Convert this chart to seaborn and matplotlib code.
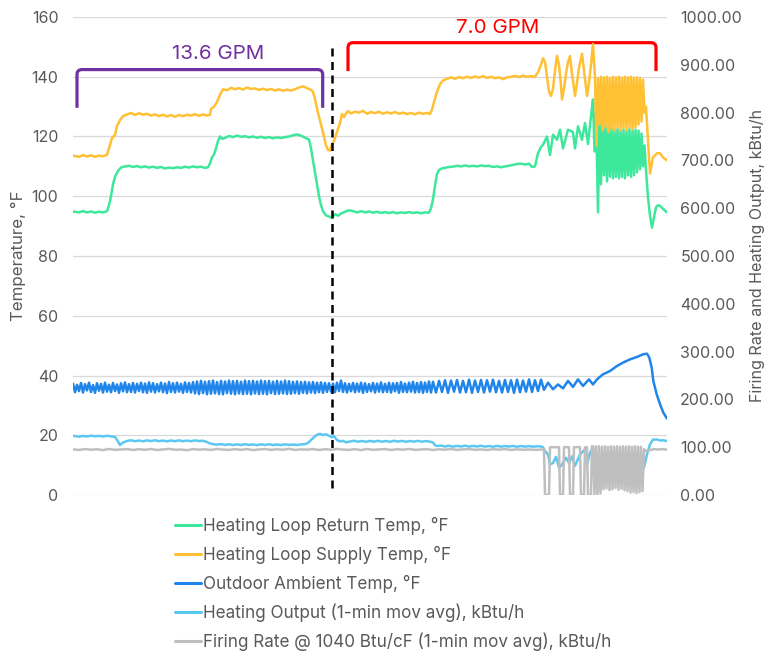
import numpy as np
import matplotlib
matplotlib.use("Agg")
import matplotlib.pyplot as plt
from matplotlib.path import Path
from matplotlib.patches import PathPatch
from matplotlib.lines import Line2D
from matplotlib.ticker import FuncFormatter
import seaborn as sns

# ---------------- data (time in arbitrary elapsed units) ----------------
labels = [
    "Heating Loop Return Temp, °F",
    "Heating Loop Supply Temp, °F",
    "Outdoor Ambient Temp, °F",
    "Heating Output (1-min mov avg), kBtu/h",
    "Firing Rate @ 1040 Btu/cF (1-min mov avg), kBtu/h",
]
colors = ["#3DE79B", "#FFC033", "#1F85EA", "#5BC8F2", "#BFBFBF"]

# Heating loop supply temp, °F
t_supply = [-2, 4, 8, 12, 16, 20, 24, 28, 32, 34, 37, 40, 42, 45, 48, 52, 56, 60, 64, 68, 72, 76, 80, 84,
            88, 92, 96, 100, 104, 108, 112, 116, 120, 124, 128, 132, 135, 136, 139, 142, 145, 148, 152,
            156, 160, 164, 168, 172, 176, 180, 184, 188, 192, 196, 200, 204, 208, 212, 216, 220, 224, 228,
            232, 236, 238, 240, 243, 246, 249, 251, 253, 255, 257, 259, 261, 263, 265, 267, 269, 271, 273,
            276, 280, 284, 288, 292, 296, 300, 304, 308, 312, 316, 320, 324, 328, 332, 336, 340, 344, 348,
            352, 355, 357, 359, 362, 365, 368, 372, 376, 380, 384, 388, 392, 396, 400, 404, 408, 412, 416,
            420, 424, 428, 432, 436, 440, 444, 448, 452, 456, 460, 463, 466, 468, 470, 472, 474, 476, 478,
            480, 482, 484, 486, 487, 489, 491, 493, 495, 497, 499, 500, 502, 504, 507, 509, 511, 512, 514,
            516, 518, 519, 520, 521.5, 523, 524.5, 526, 527.5, 529, 530.5, 532, 533.5, 535, 536.5, 538,
            539.5, 541, 542.5, 544, 545.5, 547, 548.5, 550, 551.5, 553, 554.5, 556, 557.5, 559, 560.5, 562,
            563.5, 565, 566.5, 568, 569.5, 571, 573, 575, 578, 582, 585, 588, 592]
supply = [113.6, 113.2, 113.8, 113.3, 113.7, 113.2, 113.6, 113.4, 113.9, 116.0, 119.5, 120.5, 123.5, 125.5,
          126.8, 127.4, 127.9, 127.2, 127.8, 127.3, 127.6, 127.0, 127.4, 126.8, 127.3, 126.7, 127.2, 126.6,
          127.2, 126.8, 127.3, 127.0, 127.5, 126.9, 127.4, 127.0, 127.3, 129.2, 130.0, 131.5, 134.0, 135.8,
          135.5, 136.3, 135.8, 136.2, 135.7, 136.4, 135.9, 136.1, 135.6, 136.0, 135.5, 135.9, 135.4, 135.8,
          135.3, 135.7, 135.4, 135.8, 136.4, 136.8, 136.2, 135.6, 135.0, 132.5, 128.0, 124.0, 120.0, 117.0,
          115.5, 115.3, 117.5, 118.5, 120.5, 122.5, 124.5, 127.5, 126.5, 127.8, 128.5, 127.7, 128.3, 128.0,
          128.6, 127.6, 128.2, 127.8, 128.3, 127.6, 128.1, 127.7, 128.2, 127.6, 128.0, 127.5, 127.9, 127.4,
          128.0, 127.6, 127.9, 127.5, 129.0, 131.5, 135.0, 137.5, 138.8, 139.3, 139.8, 139.3, 139.9, 139.5,
          140.0, 139.6, 140.1, 139.7, 140.2, 139.6, 140.0, 139.5, 139.8, 139.2, 139.8, 140.0, 140.3, 139.9,
          140.4, 140.0, 140.2, 140.0, 141.5, 144.0, 146.2, 145.0, 140.0, 135.0, 133.6, 136.0, 142.0, 147.0,
          144.0, 137.0, 132.4, 136.0, 141.0, 145.0, 146.9, 141.0, 136.0, 133.6, 138.0, 143.0, 147.7, 142.0,
          136.0, 133.6, 138.0, 144.0, 151.0, 145.0, 140.0, 117.0, 139.5, 124.0, 140.0, 122.0, 139.8, 123.0,
          140.0, 121.5, 139.6, 122.5, 140.0, 122.0, 139.8, 123.0, 140.0, 122.0, 139.7, 122.8, 140.0, 122.0,
          139.8, 123.0, 140.0, 122.5, 139.7, 123.0, 139.8, 124.0, 139.5, 125.0, 139.0, 128.0, 130.0, 119.0,
          107.6, 113.0, 114.4, 114.4, 113.0, 112.0]

# Heating loop return temp, °F
t_return = [-2, 4, 8, 12, 16, 20, 24, 28, 32, 34, 36, 38, 40, 43, 46, 50, 54, 58, 62, 66, 70, 74, 78, 82,
            86, 90, 94, 98, 102, 106, 110, 114, 118, 122, 126, 130, 133, 135, 137, 139, 141, 143, 145, 147,
            150, 154, 158, 162, 166, 170, 174, 178, 182, 186, 190, 194, 198, 202, 206, 210, 214, 218, 222,
            226, 230, 234, 236, 238, 240, 242, 244, 246, 248, 251, 254, 257, 260, 263, 266, 270, 274, 278,
            282, 286, 290, 294, 298, 302, 306, 310, 314, 318, 322, 326, 330, 334, 338, 342, 346, 350, 354,
            356, 358, 360, 362, 364, 367, 370, 374, 378, 382, 386, 390, 394, 398, 402, 406, 410, 414, 418,
            422, 426, 430, 434, 438, 442, 446, 450, 454, 457, 460, 463, 466, 468, 472, 475, 478, 482, 485,
            488, 493, 498, 500, 503, 507, 510, 513, 516, 518, 519.5, 521, 523, 524.5, 526, 527.5, 529,
            530.5, 532, 533.5, 535, 536.5, 538, 539.5, 541, 542.5, 544, 545.5, 547, 548.5, 550, 551.5, 553,
            554.5, 556, 557.5, 559, 560.5, 562, 563.5, 565, 566.5, 568, 569.5, 571, 573, 575, 577, 579, 581,
            583, 585, 588, 592]
ret = [94.9, 94.6, 95.0, 94.6, 94.9, 94.5, 94.8, 94.6, 95.0, 97.0, 100.0, 104.0, 106.5, 108.5, 109.6, 110.0,
       110.2, 109.8, 110.1, 109.7, 110.0, 109.6, 109.9, 109.5, 109.8, 109.3, 109.6, 109.4, 109.7, 109.5,
       109.9, 109.6, 110.0, 109.7, 109.9, 109.5, 109.7, 111.0, 113.0, 114.0, 116.0, 118.5, 120.0, 119.2,
       119.5, 120.2, 119.8, 120.3, 119.9, 120.1, 119.7, 120.0, 119.6, 119.9, 119.5, 119.8, 119.4, 119.7,
       119.5, 119.8, 120.0, 120.4, 120.7, 120.3, 119.6, 119.0, 116.0, 112.0, 108.0, 104.0, 100.0, 97.0,
       95.0, 93.6, 93.2, 92.8, 94.0, 93.5, 94.2, 94.8, 95.3, 95.0, 94.6, 95.0, 94.6, 94.9, 94.5, 94.8, 94.4,
       94.7, 94.4, 94.7, 94.3, 94.6, 94.4, 94.7, 94.4, 94.6, 94.3, 94.6, 94.5, 96.0, 99.0, 103.5, 107.5,
       108.8, 109.3, 109.5, 109.8, 109.9, 110.2, 110.0, 110.3, 110.0, 110.2, 110.0, 110.3, 110.1, 110.2,
       109.8, 110.0, 109.7, 110.0, 110.2, 110.5, 110.8, 110.9, 110.6, 110.9, 109.8, 110.0, 114.4, 116.5,
       117.2, 120.0, 113.8, 120.6, 118.9, 122.3, 116.0, 122.3, 121.5, 116.0, 123.4, 118.9, 124.5, 117.5,
       126.8, 132.4, 115.0, 128.0, 94.6, 126.0, 104.0, 125.0, 107.0, 124.0, 105.0, 123.5, 106.5, 123.0,
       106.0, 122.5, 106.5, 122.5, 106.0, 122.0, 106.5, 122.3, 106.0, 122.0, 107.0, 122.5, 106.5, 122.0,
       107.0, 122.3, 108.0, 122.0, 109.0, 121.0, 110.0, 117.0, 108.7, 99.6, 93.5, 89.5, 93.0, 96.3, 97.0,
       96.8, 95.8, 94.6]

# Outdoor ambient temp, °F
# dense part: every 2 time units from -2 to 358
amb_dense = [37.3, 34.4, 36.9, 34.8, 37.5, 34.3, 37.1, 35.0, 37.6, 34.5,
             36.8, 34.2, 37.4, 34.9, 37.2, 34.3, 37.6, 34.6, 36.9, 34.4,
             37.5, 34.8, 37.0, 34.2, 37.4, 34.7, 37.7, 34.4, 37.1, 34.5,
             37.5, 34.3, 37.2, 34.8, 37.6, 34.4, 37.3, 34.2, 37.7, 34.6,
             37.4, 34.3, 37.1, 34.7, 37.6, 34.4, 37.3, 34.1, 37.8, 34.5,
             37.4, 34.3, 37.6, 34.6, 37.2, 34.2, 37.7, 34.5, 37.5, 34.3,
             37.8,
             34.0, 38.0, 33.8, 38.2, 34.1, 37.9, 33.7, 38.1, 33.9, 38.3,
             34.0, 37.8, 33.8, 38.2, 33.7, 38.0, 34.1, 38.3, 33.9, 38.1,
             33.7, 38.2, 34.0, 37.9, 33.8, 38.3, 33.9, 38.1, 33.7, 38.2,
             34.0, 38.0, 33.8, 38.3, 33.9, 38.1, 33.7, 38.2, 34.1, 37.9,
             33.8, 38.2, 33.9, 38.0, 34.0, 38.3, 33.8, 38.1, 33.9, 37.9,
             34.1, 38.0, 33.9, 37.8, 34.2, 37.9, 34.0, 37.7, 34.3, 37.8,
             34.1, 37.6, 34.4, 37.7, 34.2, 37.5, 34.5, 37.4,
             34.6, 37.3, 34.4, 37.6, 34.8, 38.3, 34.5, 37.4, 34.3, 37.2,
             34.7, 37.5, 34.4, 37.3, 34.6, 37.6, 34.2, 37.4, 34.5, 37.1,
             34.7, 37.5, 34.3, 37.3, 34.6, 37.7, 34.4, 37.2, 34.5, 37.6,
             34.3, 37.4, 34.7, 37.5, 34.2, 37.8, 34.5, 37.3, 34.4, 37.6,
             34.6, 37.9, 34.3, 37.5, 34.4, 37.8, 34.2, 37.6, 34.5, 38.0,
             34.3, 37.9]
# zigzag part: every 3 time units from 361
amb_zig = [34.3, 38.2, 34.5, 38.4, 34.2, 38.3, 34.6, 38.5, 34.3, 38.2, 34.4, 38.6, 34.2, 38.3, 34.5,
           38.5, 34.3, 38.4, 34.6, 38.6, 34.4, 38.2, 34.3, 38.5, 34.5, 38.4, 34.2, 38.6, 34.4, 38.3,
           34.6, 38.7, 34.5, 38.4, 34.8, 38.6, 35.2]
t_amb_tail = [473, 478, 483, 488, 493, 498, 503, 508, 514, 518, 522, 528, 535, 542, 548, 555, 562, 568,
              572, 574.3, 576.7, 578.3, 581.7, 585, 588.3, 592]
amb_tail = [37.6, 35.4, 37.0, 35.7, 38.2, 36.2, 38.7, 36.5, 38.7, 37.0, 38.7, 40.4, 41.5, 43.2, 44.3, 45.4,
            46.2, 47.1, 47.3, 46.0, 42.6, 38.2, 33.7, 30.4, 27.6, 25.6]

# Heating output, kBtu/h
t_output = [-2, 4, 8, 12, 16, 20, 24, 28, 32, 36, 40, 43, 45, 48, 52, 56, 60, 64, 68, 72, 76, 80, 84, 88,
            92, 96, 100, 104, 108, 112, 116, 120, 124, 128, 131, 135, 139, 142, 146, 150, 154, 158, 162,
            166, 170, 174, 178, 182, 186, 190, 194, 198, 202, 206, 210, 214, 218, 222, 226, 230, 233, 236,
            239, 242, 245, 248, 251, 254, 257, 259, 262, 265, 268, 271, 275, 279, 283, 287, 291, 295, 299,
            303, 307, 311, 315, 319, 323, 327, 331, 335, 339, 343, 347, 351, 355, 358, 360, 362, 366, 370,
            374, 378, 382, 386, 390, 394, 398, 402, 406, 410, 414, 418, 422, 426, 430, 434, 438, 442, 446,
            450, 454, 458, 462, 466, 468, 470, 473, 475, 478, 481, 484, 487, 491, 494, 497, 500, 505, 510,
            512, 515, 518, 520, 523, 527, 530, 535, 540, 545, 550, 555, 560, 563, 566, 569, 572, 575, 578,
            582, 585, 588, 592]
output = [124.0, 122.0, 123.5, 122.5, 124.0, 122.8, 123.6, 122.4, 123.8, 122.5, 121.5, 112.0, 104.6, 110.0,
          113.0, 114.5, 112.5, 114.0, 112.3, 114.2, 112.8, 114.5, 112.5, 113.8, 112.2, 114.0, 112.6, 114.3,
          112.4, 113.9, 112.5, 114.2, 112.8, 113.5, 111.5, 108.0, 106.0, 105.5, 106.5, 104.8, 106.2, 104.5,
          106.0, 104.6, 106.3, 104.8, 105.9, 104.4, 106.0, 104.8, 106.2, 104.5, 105.8, 104.6, 106.0, 104.8,
          105.6, 104.5, 105.8, 106.5, 109.0, 115.0, 121.0, 126.0, 128.0, 125.5, 127.0, 124.0, 121.0, 123.0,
          115.0, 112.0, 113.5, 110.0, 112.0, 113.5, 111.5, 113.0, 111.2, 113.2, 111.6, 113.4, 111.5, 113.0,
          111.3, 113.5, 111.8, 113.2, 111.4, 113.0, 111.6, 113.3, 111.5, 112.8, 111.5, 110.0, 104.0, 102.5,
          103.5, 101.5, 103.0, 101.2, 102.8, 101.5, 103.2, 101.3, 102.7, 101.5, 103.0, 101.2, 102.5, 101.0,
          102.8, 101.2, 102.5, 101.3, 102.6, 101.0, 102.4, 101.2, 102.3, 101.0, 102.0, 101.5, 100.0, 92.0,
          85.0, 64.0, 67.0, 80.0, 57.0, 64.0, 78.0, 67.0, 81.0, 61.0, 85.0, 95.0, 64.0, 88.0, 100.0, 70.0,
          55.0, 64.0, 50.0, 60.0, 45.0, 55.0, 40.0, 52.0, 42.0, 55.0, 48.0, 58.0, 85.0, 106.0, 116.0, 116.0,
          114.0, 114.5, 113.0]

# Firing rate, kBtu/h -- regular part (every 6 time units from -2) then cycling tail
firing_regular = [95.5, 94.2, 96.1, 94.8, 95.7, 93.9, 96.3, 94.5, 95.2, 96.0, 94.3, 95.8, 94.6, 96.2, 94.1,
                  95.4, 96.5, 94.7, 95.1, 93.8, 96.0, 94.9, 95.6, 94.2, 96.4, 95.0, 94.4, 95.9, 94.6, 96.1,
                  94.0, 95.3, 96.2, 94.5, 95.7, 94.8, 96.6, 94.3, 95.5, 94.9, 96.0, 94.2, 95.8, 94.7, 96.3,
                  95.1, 94.4, 95.9, 94.0, 96.2, 94.6, 95.4, 96.1, 94.3, 95.6, 94.9, 96.4, 94.5, 95.2, 95.9,
                  94.1, 95.7, 94.8, 96.3, 94.4, 95.5, 96.0, 94.6, 95.3, 94.2, 95.8, 94.9, 96.1, 94.3, 95.6,
                  94.7, 95.2, 94.5, 95.0]
t_firing_tail = [469, 470, 474, 475, 484, 485, 488, 489, 494, 495, 498, 499, 505, 506, 509, 510, 512, 513,
                 516, 517, 518, 519.5, 521, 522.5, 524, 525.5, 527, 528.5, 530, 531.5, 533, 534.5, 536,
                 537.5, 539, 540.5, 542, 543.5, 545, 546.5, 548, 549.5, 551, 552.5, 554, 555.5, 557, 558.5,
                 560, 561.5, 563, 564.5, 566, 567.5, 569, 571, 575, 579, 583, 587, 592]
firing_tail = [95.0, 0.0, 0.0, 100.0, 100.0, 0.0, 0.0, 100.0, 100.0, 0.0, 0.0, 100.0, 100.0, 0.0, 0.0, 100.0,
               100.0, 0.0, 0.0, 102.0, 102.0, 2.0, 102.0, 0.0, 102.0, 3.0, 101.0, 12.0, 102.0, 14.0, 101.0,
               10.0, 102.0, 12.0, 101.0, 15.0, 102.0, 11.0, 101.0, 13.0, 102.0, 10.0, 101.0, 8.0, 102.0, 5.0,
               101.0, 6.0, 102.0, 4.0, 101.0, 6.0, 101.0, 8.0, 96.0, 92.0, 94.0, 96.0, 95.0, 96.0, 95.0]

divider_t = 257
gpm_labels = ["13.6 GPM", "7.0 GPM"]
gpm_colors = ["#7030A0", "#FF0000"]

# ---------------- assemble ----------------
t_amb = np.concatenate([-2 + 2 * np.arange(len(amb_dense)), 361 + 3 * np.arange(len(amb_zig)), t_amb_tail])
amb = np.concatenate([amb_dense, amb_zig, amb_tail])
t_firing = np.concatenate([-2 + 6 * np.arange(len(firing_regular)), t_firing_tail])
firing = np.concatenate([firing_regular, firing_tail])

# ---------------- style ----------------
sns.set_style("white")
plt.rcParams["font.family"] = ["Inter", "DejaVu Sans"]
txt = "#595959"

fig = plt.figure(figsize=(7.66, 6.51), dpi=100)
ax = fig.add_axes([73 / 766, 1 - 495 / 651, 594 / 766, 478 / 651])
ax2 = ax.twinx()

lw = 1.8
sns.lineplot(x=t_return, y=ret, ax=ax, color=colors[0], linewidth=lw, estimator=None, sort=False)
sns.lineplot(x=t_supply, y=supply, ax=ax, color=colors[1], linewidth=lw, estimator=None, sort=False)
sns.lineplot(x=t_amb, y=amb, ax=ax, color=colors[2], linewidth=lw, estimator=None, sort=False)
sns.lineplot(x=t_output, y=output, ax=ax2, color=colors[3], linewidth=lw, estimator=None, sort=False)
sns.lineplot(x=t_firing, y=firing, ax=ax2, color=colors[4], linewidth=lw, estimator=None, sort=False)

ax.set_xlim(-2, 592)
ax.set_ylim(0, 160)
ax2.set_ylim(0, 1000)
ax.set_yticks(np.arange(0, 161, 20))
ax2.set_yticks(np.arange(0, 1001, 100))
ax.set_xticks([])
ax2.yaxis.set_major_formatter(FuncFormatter(lambda v, p: f"{v:.2f}"))
ax.grid(axis="y", color="#D9D9D9", linewidth=0.9)
ax.set_axisbelow(True)
for a in (ax, ax2):
    for s in a.spines.values():
        s.set_visible(False)
ax.tick_params(axis="y", length=0, pad=10.5, labelsize=11.5, labelcolor=txt)
ax2.tick_params(axis="y", length=0, pad=9.5, labelsize=11.5, labelcolor=txt)
ax.set_xlabel("")
ax.set_ylabel("Temperature, °F", fontsize=12.2, color=txt, labelpad=4)
ax2.set_ylabel("Firing Rate and Heating Output, kBtu/h", fontsize=11.6, color=txt, labelpad=6)

# dashed divider (drawn on top axis, right-axis units)
ax2.plot([divider_t, divider_t], [2.3 * 6.25, 150.3 * 6.25], color="black", lw=1.8,
         linestyle=(0, (3.2, 2.2)), zorder=5)


def bracket(a, x0, x1, yb, yt, color, r=5.0):
    ry = r / 2.9875
    verts = [(x0, yb), (x0, yt - ry), (x0, yt), (x0 + r, yt), (x1 - r, yt), (x1, yt), (x1, yt - ry),
             (x1, yb)]
    codes = [Path.MOVETO, Path.LINETO, Path.CURVE3, Path.CURVE3, Path.LINETO, Path.CURVE3, Path.CURVE3,
             Path.LINETO]
    a.add_patch(PathPatch(Path(verts, codes), fill=False, edgecolor=color, lw=2.3, capstyle="butt",
                          clip_on=False))


bracket(ax, 2, 247.7, 129.6, 142.4, gpm_colors[0])
bracket(ax, 273, 581, 141.9, 151.4, gpm_colors[1])
ax.text(143, 147.6, gpm_labels[0], color=gpm_colors[0], fontsize=14.8, ha="center", va="center",
        clip_on=False)
ax.text(423, 156.2, gpm_labels[1], color=gpm_colors[1], fontsize=14.8, ha="center", va="center",
        clip_on=False)

handles = [Line2D([], [], color=c, lw=2.2) for c in colors]
fig.legend(handles, labels, loc="upper left", bbox_to_anchor=(175 / 766, 1 - 517 / 651),
           frameon=False, fontsize=12.3, labelcolor=txt, handlelength=1.5, handletextpad=0.15,
           borderpad=0, borderaxespad=0, labelspacing=0.62)

fig.savefig("out.png", dpi=100)
